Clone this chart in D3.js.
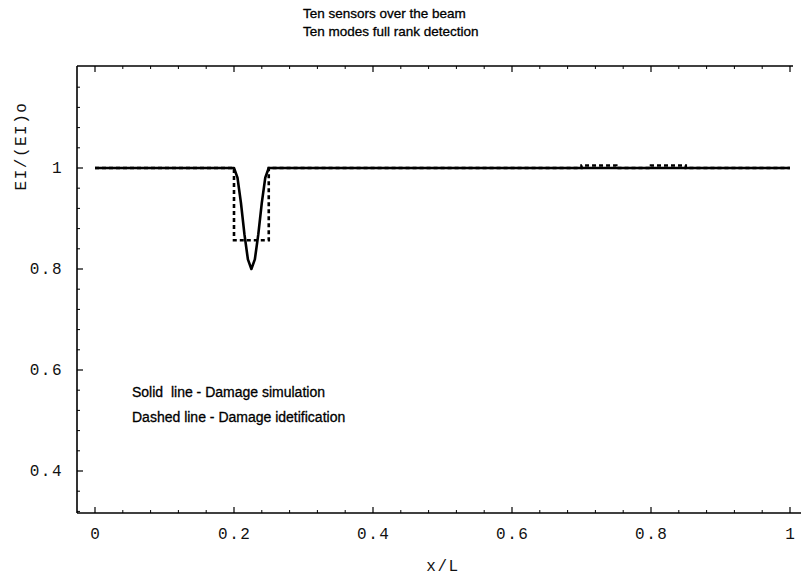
<!DOCTYPE html>
<html><head><meta charset="utf-8">
<script src="https://cdn.jsdelivr.net/npm/d3@7"></script>
<style>body{margin:0;background:#fff}</style>
</head><body>
<svg id="c" width="802" height="584"></svg>
<script>
const titleLines = ["Ten sensors over the beam", "Ten modes full rank detection"];
const legendLines = ["Solid  line - Damage simulation", "Dashed line - Damage idetification"];
const xTicks = [0, 0.2, 0.4, 0.6, 0.8, 1];
const xTickLabels = ["0", "0.2", "0.4", "0.6", "0.8", "1"];
const yTicks = [0.4, 0.6, 0.8, 1];
const yTickLabels = ["0.4", "0.6", "0.8", "1"];
// solid: damage simulation
const simX = [0, 0.2, 0.205, 0.21, 0.215, 0.22, 0.225, 0.23, 0.235, 0.24, 0.245, 0.25, 1];
const simY = [1, 1, 0.981, 0.931, 0.869, 0.819, 0.8, 0.819, 0.869, 0.931, 0.981, 1, 1];
// dashed: damage identification
const idX = [0, 0.2, 0.2, 0.25, 0.25, 0.7, 0.7, 0.75, 0.75, 0.8, 0.8, 0.85, 0.85, 1];
const idY = [1, 1, 0.857, 0.857, 1, 1, 1.005, 1.005, 1, 1, 1.005, 1.005, 1, 1];

const svg = d3.select("#c");
const L = 77, R = 793, T = 66, B = 513;
const x = d3.scaleLinear().domain([0, 1]).range([95, 790]);
const y = d3.scaleLinear().domain([1, 0.8]).range([168, 269]);
const yBot = y.invert(B), yTop = y.invert(T);

const g = svg.append("g");
g.append("line").attr("x1", L).attr("x2", L).attr("y1", T).attr("y2", B).attr("stroke", "#000").attr("stroke-width", 1.6);
g.append("line").attr("x1", L).attr("x2", 801).attr("y1", B).attr("y2", B).attr("stroke", "#000").attr("stroke-width", 1.6);
g.append("line").attr("x1", L).attr("x2", R).attr("y1", T).attr("y2", T).attr("stroke", "#000").attr("stroke-width", 1.6);

const minorX = d3.range(0, 1.0001, 0.04).filter(v => !xTicks.some(t => Math.abs(t - v) < 1e-6));
const minorY = d3.range(0.32, 1.2, 0.04).filter(v => v >= yBot && v <= yTop && !yTicks.some(t => Math.abs(t - v) < 1e-6));

g.selectAll(".xb").data(xTicks).join("line").attr("x1", d => x(d)).attr("x2", d => x(d)).attr("y1", B).attr("y2", B - 6).attr("stroke", "#000").attr("stroke-width", 1.2);
g.selectAll(".xbm").data(minorX).join("line").attr("x1", d => x(d)).attr("x2", d => x(d)).attr("y1", B).attr("y2", B - 3).attr("stroke", "#000").attr("stroke-width", 1);
g.selectAll(".xt").data(xTicks).join("line").attr("x1", d => x(d)).attr("x2", d => x(d)).attr("y1", T).attr("y2", T + 6).attr("stroke", "#000").attr("stroke-width", 1.2);
g.selectAll(".xtm").data(minorX).join("line").attr("x1", d => x(d)).attr("x2", d => x(d)).attr("y1", T).attr("y2", T + 3).attr("stroke", "#000").attr("stroke-width", 1);
g.selectAll(".yl").data(yTicks).join("line").attr("x1", L).attr("x2", L + 6).attr("y1", d => y(d)).attr("y2", d => y(d)).attr("stroke", "#000").attr("stroke-width", 1.2);
g.selectAll(".ylm").data(minorY).join("line").attr("x1", L).attr("x2", L + 3).attr("y1", d => y(d)).attr("y2", d => y(d)).attr("stroke", "#000").attr("stroke-width", 1);

const mono = "'Liberation Mono', 'DejaVu Sans Mono', monospace";
const monoText = sel => sel.attr("font-family", mono).attr("font-size", 16).attr("letter-spacing", 1.5).attr("fill", "#111");
g.selectAll(".xl").data(xTicks).join("text").attr("x", d => x(d) + 0.75).attr("y", 539)
  .attr("text-anchor", "middle").call(monoText).text((d, i) => xTickLabels[i]);
g.selectAll(".ylab").data(yTicks).join("text").attr("x", 63).attr("y", d => y(d) + 5)
  .attr("text-anchor", "end").call(monoText).text((d, i) => yTickLabels[i]);

svg.append("text").attr("x", 443).attr("y", 571).attr("text-anchor", "middle").call(monoText).text("x/L");
svg.append("text").attr("transform", "translate(26,146) rotate(-90)").attr("text-anchor", "middle").call(monoText).text("EI/(EI)o");

const sans = "'Liberation Sans', Arial, sans-serif";
svg.selectAll(".ttl").data(titleLines).join("text").attr("x", 303).attr("y", (d, i) => 18 + i * 18)
  .attr("font-family", sans).attr("font-size", 13.5).attr("stroke", "#000").attr("stroke-width", 0.3).text(d => d);
svg.selectAll(".leg").data(legendLines).join("text").attr("x", 132).attr("y", (d, i) => 397 + i * 25)
  .attr("font-family", sans).attr("font-size", 14).attr("stroke", "#000").attr("stroke-width", 0.3)
  .style("white-space", "pre").text(d => d);

const line = d3.line().x(d => x(d[0])).y(d => y(d[1]));
svg.append("path").attr("d", line(idX.map((v, i) => [v, idY[i]]))).attr("fill", "none")
  .attr("stroke", "#000").attr("stroke-width", 2.6).attr("stroke-dasharray", "4,3");
svg.append("path").attr("d", line(simX.map((v, i) => [v, simY[i]]))).attr("fill", "none")
  .attr("stroke", "#000").attr("stroke-width", 2.6).attr("stroke-linejoin", "round");
</script>
</body></html>
